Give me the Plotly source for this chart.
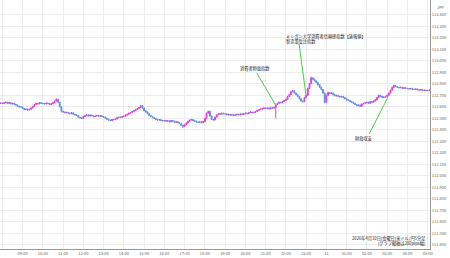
import pandas as pd
import plotly.graph_objects as go

first_open = 112.630

closes = [
    112.632,
    112.628, 112.635, 112.640, 112.630, 112.636, 112.625, 112.630, 112.622, 112.615, 112.605, 112.600, 112.598,
    112.585, 112.575, 112.580, 112.572, 112.578, 112.590, 112.605, 112.620, 112.630, 112.625, 112.635, 112.630,
    112.630, 112.625, 112.632, 112.628, 112.620, 112.626, 112.635, 112.650, 112.665, 112.640, 112.600, 112.560,
    112.555, 112.548, 112.552, 112.545, 112.540, 112.548, 112.535, 112.530, 112.525, 112.510, 112.505, 112.500,
    112.515, 112.525, 112.530, 112.520, 112.528, 112.522, 112.515, 112.520, 112.525, 112.518, 112.522, 112.515,
    112.510, 112.500, 112.492, 112.485, 112.480, 112.490, 112.488, 112.495, 112.505, 112.510, 112.508, 112.515,
    112.520, 112.528, 112.535, 112.545, 112.550, 112.560, 112.568, 112.575, 112.585, 112.595, 112.610, 112.590,
    112.565, 112.555, 112.540, 112.525, 112.515, 112.505, 112.498, 112.490, 112.485, 112.488, 112.480, 112.478,
    112.482, 112.475, 112.478, 112.470, 112.480, 112.475, 112.465, 112.470, 112.462, 112.455, 112.440, 112.430,
    112.445, 112.460, 112.475, 112.485, 112.490, 112.480, 112.475, 112.468, 112.465, 112.470, 112.462, 112.470,
    112.500, 112.545, 112.560, 112.520, 112.490, 112.485, 112.510, 112.530, 112.540, 112.535, 112.545, 112.540,
    112.538, 112.530, 112.535, 112.528, 112.532, 112.525, 112.530, 112.535, 112.530, 112.538, 112.532, 112.540,
    112.545, 112.540, 112.550, 112.555, 112.548, 112.552, 112.560, 112.570, 112.575, 112.580, 112.585, 112.590,
    112.585, 112.590, 112.582, 112.592, 112.588, 112.595, 112.620, 112.630, 112.640, 112.635, 112.645, 112.655,
    112.665, 112.690, 112.705, 112.730, 112.740, 112.720, 112.705, 112.690, 112.670, 112.650, 112.645, 112.680,
    112.700, 112.760, 112.800, 112.850, 112.840, 112.825, 112.810, 112.790, 112.770, 112.750, 112.720, 112.640,
    112.700, 112.725, 112.715, 112.720, 112.705, 112.695, 112.700, 112.690, 112.685, 112.690, 112.680, 112.670,
    112.660, 112.655, 112.645, 112.640, 112.630, 112.620, 112.610, 112.615, 112.605, 112.625, 112.630, 112.635,
    112.640, 112.630, 112.645, 112.640, 112.650, 112.660, 112.680, 112.700, 112.690, 112.680, 112.685, 112.690,
    112.700, 112.720, 112.745, 112.770, 112.785, 112.775, 112.770, 112.765, 112.770, 112.760, 112.765, 112.760,
    112.758, 112.755, 112.760, 112.752, 112.750, 112.755, 112.748, 112.745, 112.750, 112.742, 112.745, 112.740,
    112.742, 112.745,
]

highs = [
    112.636,
    112.635, 112.638, 112.644, 112.643, 112.639, 112.640, 112.632, 112.634, 112.625, 112.618, 112.609, 112.604,
    112.601, 112.588, 112.583, 112.584, 112.580, 112.592, 112.608, 112.623, 112.634, 112.633, 112.638, 112.637,
    112.634, 112.633, 112.635, 112.635, 112.631, 112.629, 112.638, 112.654, 112.672, 112.668, 112.643, 112.604,
    112.565, 112.558, 112.555, 112.556, 112.548, 112.551, 112.550, 112.538, 112.533, 112.528, 112.513, 112.508,
    112.518, 112.528, 112.534, 112.533, 112.531, 112.531, 112.525, 112.523, 112.528, 112.528, 112.525, 112.525,
    112.518, 112.513, 112.503, 112.495, 112.488, 112.493, 112.493, 112.498, 112.508, 112.513, 112.513, 112.518,
    112.523, 112.531, 112.538, 112.548, 112.553, 112.563, 112.571, 112.578, 112.588, 112.598, 112.616, 112.613,
    112.593, 112.568, 112.558, 112.543, 112.528, 112.518, 112.508, 112.501, 112.493, 112.491, 112.491, 112.483,
    112.485, 112.485, 112.481, 112.481, 112.483, 112.483, 112.478, 112.473, 112.473, 112.465, 112.458, 112.444,
    112.448, 112.463, 112.478, 112.488, 112.494, 112.493, 112.483, 112.478, 112.471, 112.473, 112.473, 112.473,
    112.504, 112.549, 112.566, 112.563, 112.524, 112.494, 112.513, 112.533, 112.544, 112.543, 112.548, 112.548,
    112.543, 112.541, 112.538, 112.538, 112.535, 112.535, 112.533, 112.538, 112.538, 112.541, 112.541, 112.543,
    112.548, 112.548, 112.553, 112.558, 112.558, 112.555, 112.563, 112.573, 112.578, 112.583, 112.588, 112.593,
    112.593, 112.593, 112.593, 112.595, 112.595, 112.598, 112.628, 112.634, 112.644, 112.643, 112.648, 112.658,
    112.669, 112.694, 112.709, 112.734, 112.746, 112.743, 112.724, 112.708, 112.693, 112.673, 112.654, 112.684,
    112.705, 112.765, 112.806, 112.862, 112.858, 112.845, 112.830, 112.814, 112.794, 112.774, 112.754, 112.724,
    112.705, 112.730, 112.728, 112.724, 112.723, 112.708, 112.703, 112.703, 112.693, 112.693, 112.693, 112.683,
    112.673, 112.663, 112.658, 112.648, 112.643, 112.633, 112.623, 112.618, 112.618, 112.628, 112.633, 112.638,
    112.643, 112.643, 112.648, 112.648, 112.653, 112.663, 112.684, 112.705, 112.703, 112.693, 112.688, 112.693,
    112.704, 112.724, 112.749, 112.774, 112.790, 112.788, 112.778, 112.773, 112.773, 112.773, 112.768, 112.768,
    112.763, 112.761, 112.763, 112.763, 112.755, 112.758, 112.758, 112.751, 112.753, 112.753, 112.748, 112.748,
    112.745, 112.748,
]

lows = [
    112.627,
    112.625, 112.626, 112.632, 112.628, 112.628, 112.622, 112.622, 112.620, 112.612, 112.603, 112.597, 112.594,
    112.582, 112.570, 112.572, 112.568, 112.569, 112.575, 112.587, 112.602, 112.617, 112.621, 112.622, 112.627,
    112.626, 112.622, 112.622, 112.625, 112.617, 112.617, 112.623, 112.632, 112.647, 112.636, 112.596, 112.552,
    112.551, 112.545, 112.545, 112.542, 112.537, 112.537, 112.532, 112.526, 112.521, 112.506, 112.501, 112.494,
    112.497, 112.512, 112.522, 112.517, 112.517, 112.519, 112.512, 112.512, 112.517, 112.515, 112.515, 112.512,
    112.507, 112.497, 112.489, 112.481, 112.476, 112.477, 112.485, 112.485, 112.492, 112.502, 112.505, 112.505,
    112.512, 112.517, 112.525, 112.532, 112.542, 112.547, 112.557, 112.565, 112.572, 112.582, 112.592, 112.586,
    112.561, 112.551, 112.536, 112.521, 112.511, 112.502, 112.494, 112.486, 112.481, 112.482, 112.477, 112.474,
    112.475, 112.472, 112.472, 112.467, 112.467, 112.472, 112.462, 112.462, 112.459, 112.452, 112.436, 112.415,
    112.427, 112.442, 112.457, 112.472, 112.482, 112.477, 112.472, 112.465, 112.462, 112.462, 112.459, 112.459,
    112.467, 112.497, 112.542, 112.516, 112.486, 112.481, 112.482, 112.507, 112.527, 112.532, 112.532, 112.537,
    112.535, 112.527, 112.527, 112.525, 112.525, 112.522, 112.522, 112.527, 112.527, 112.527, 112.529, 112.529,
    112.537, 112.537, 112.537, 112.547, 112.545, 112.545, 112.549, 112.557, 112.567, 112.572, 112.577, 112.582,
    112.582, 112.582, 112.579, 112.579, 112.585, 112.585, 112.500, 112.616, 112.627, 112.632, 112.632, 112.642,
    112.652, 112.662, 112.687, 112.702, 112.727, 112.716, 112.701, 112.686, 112.666, 112.646, 112.638, 112.641,
    112.672, 112.695, 112.755, 112.796, 112.835, 112.820, 112.806, 112.786, 112.765, 112.745, 112.716, 112.630,
    112.632, 112.696, 112.711, 112.711, 112.701, 112.691, 112.691, 112.686, 112.681, 112.681, 112.676, 112.666,
    112.657, 112.652, 112.642, 112.637, 112.627, 112.617, 112.606, 112.606, 112.600, 112.601, 112.622, 112.627,
    112.632, 112.627, 112.627, 112.637, 112.637, 112.647, 112.657, 112.677, 112.686, 112.677, 112.677, 112.682,
    112.672, 112.697, 112.717, 112.742, 112.767, 112.771, 112.766, 112.762, 112.762, 112.757, 112.757, 112.757,
    112.755, 112.752, 112.752, 112.749, 112.747, 112.747, 112.745, 112.742, 112.742, 112.739, 112.739, 112.737,
    112.737, 112.739,
]

opens = [first_open] + closes[:-1]
times = pd.date_range("2026-04-10 07:55", periods=len(closes), freq="5min")

tick_times = pd.date_range("2026-04-10 08:00", "2026-04-11 05:00", freq="1h")
tick_labels = ["08:00", "09:00", "10:00", "11:00", "12:00", "13:00", "14:00", "15:00",
               "16:00", "17:00", "18:00", "19:00", "20:00", "21:00", "22:00", "23:00",
               "11", "01:00", "02:00", "03:00", "04:00", "05:00"]

y_ticks = [111.4, 111.5, 111.6, 111.7, 111.8, 111.9, 112.0, 112.1, 112.2, 112.3, 112.4,
           112.5, 112.6, 112.7, 112.8, 112.9, 113.0, 113.1, 113.2, 113.3, 113.4]

event_labels = ["消費者物価指数", "ミシガン大学消費者信頼感指数【速報値】<br>製造業受注指数", "財政収支"]
event_times = ["2026-04-10 21:30", "2026-04-10 23:00", "2026-04-11 03:00"]
event_prices = [112.615, 112.690, 112.668]

caption = "2026年4月10日(金曜日)米ドル/円5分足<br>(グラフ縦軸は200pips幅)"

UP = "#df3fd8"
DOWN = "#5d8fe6"
GREEN = "#47cf47"
FONT = "Noto Sans CJK JP, Noto Sans, sans-serif"

fig = go.Figure()
fig.add_trace(go.Candlestick(
    x=times, open=opens, high=highs, low=lows, close=closes,
    increasing=dict(line=dict(color=UP, width=1), fillcolor=UP),
    decreasing=dict(line=dict(color=DOWN, width=1), fillcolor=DOWN),
    whiskerwidth=0, showlegend=False, hoverinfo="skip",
))

# connector lines (pixel offsets from the event point)
line_offsets = [(-19, 32), (-7, 52), (-18, -35)]
for t, p, (dx, dy) in zip(event_times, event_prices, line_offsets):
    fig.add_shape(type="line", xref="x", yref="y",
                  xsizemode="pixel", xanchor=t, x0=0, x1=dx,
                  ysizemode="pixel", yanchor=p, y0=0, y1=dy,
                  line=dict(color=GREEN, width=1))

text_pos = [(-21, 37, "center"), (-22, 57, "left"), (-23, -40, "center")]
for lab, t, p, (xs, ys, xa) in zip(event_labels, event_times, event_prices, text_pos):
    fig.add_annotation(x=t, y=p, xref="x", yref="y", text=lab, showarrow=False,
                       xshift=xs, yshift=ys, xanchor=xa, yanchor="middle", align="left",
                       font=dict(size=4.2, color="#222", family=FONT))

fig.add_annotation(xref="paper", yref="paper", x=1, y=1, xanchor="left", yanchor="top",
                   xshift=5, yshift=-2, text="JPY", showarrow=False,
                   font=dict(size=4, color="#555", family=FONT))
fig.add_annotation(xref="paper", yref="paper", x=1, y=0, xanchor="right", yanchor="middle",
                   xshift=-2, yshift=8.5, text=caption, showarrow=False, align="right",
                   font=dict(size=4.2, color="#222", family=FONT))

fig.update_layout(
    width=450, height=258,
    margin=dict(l=0, r=20, t=0, b=9),
    paper_bgcolor="white", plot_bgcolor="white",
    font=dict(family=FONT),
    xaxis=dict(
        type="date", range=["2026-04-10 07:53", "2026-04-11 05:07"],
        rangeslider=dict(visible=False),
        tickmode="array", tickvals=tick_times, ticktext=tick_labels,
        tickfont=dict(size=4, color="#666"),
        showgrid=True, gridcolor="#ececec", gridwidth=1,
        showline=True, linecolor="#999", linewidth=1,
        ticks="", zeroline=False,
    ),
    yaxis=dict(
        side="right", range=[111.365, 113.5275],
        tickmode="array", tickvals=y_ticks,
        ticktext=[f"{v:.3f}" for v in y_ticks],
        tickfont=dict(size=4, color="#666"),
        showgrid=True, gridcolor="#ececec", gridwidth=1,
        showline=True, linecolor="#999", linewidth=1,
        ticks="", zeroline=False,
    ),
)

fig.write_html("out.html")
